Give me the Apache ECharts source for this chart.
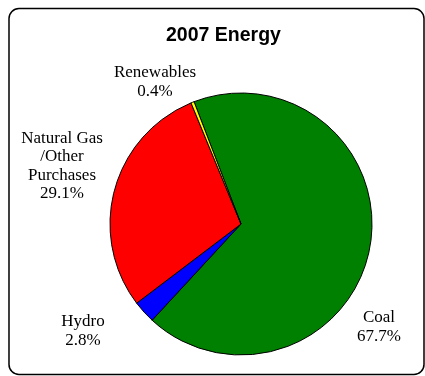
<!DOCTYPE html>
<html>
<head>
<meta charset="utf-8">
<script src="https://cdn.jsdelivr.net/npm/echarts@6/dist/echarts.min.js"></script>
<style>
  html, body { margin: 0; padding: 0; background: #fff; }
  #chart { width: 425px; height: 376px; }
</style>
</head>
<body>
<div id="chart"></div>
<script>
// slice data, clockwise from the top-left edge of the coal slice
const categories = ['Coal', 'Hydro', 'Natural Gas\n/Other\nPurchases', 'Renewables']
const shares = [67.7, 2.8, 29.1, 0.4]
const sliceColors = ['#008000', '#0000ff', '#ff0000', '#ffff00']

// where the label blocks sit (centre of each block)
const labelPos = [[379, 327], [83, 331], [62, 166], [155, 82]]

const chart = echarts.init(document.getElementById('chart'))

chart.setOption({
  animation: false,
  title: {
    text: '2007 Energy',
    left: 161,
    top: 21,
    textStyle: {
      fontFamily: 'Liberation Sans',
      fontWeight: 'bold',
      fontSize: 19.5,
      color: '#000'
    }
  },
  graphic: [
    {
      type: 'rect',
      shape: { x: 9, y: 8.5, width: 415, height: 366, r: 10 },
      style: { fill: 'none', stroke: '#000', lineWidth: 1.5 },
      z: -1
    }
  ],
  series: [
    {
      type: 'pie',
      center: [241, 224],
      radius: 131,
      startAngle: 111,
      clockwise: true,
      avoidLabelOverlap: false,
      data: categories.map((name, i) => ({
        name: name,
        value: shares[i],
        itemStyle: { color: sliceColors[i] }
      })),
      itemStyle: { borderColor: '#000', borderWidth: 1 },
      label: {
        show: true,
        formatter: p => p.name + '\n' + p.value.toFixed(1) + '%',
        fontFamily: 'Liberation Serif',
        fontSize: 17,
        lineHeight: 18.6,
        color: '#000',
        align: 'center',
        overflow: 'none'
      },
      labelLine: { show: false },
      labelLayout: params => ({
        x: labelPos[params.dataIndex][0],
        y: labelPos[params.dataIndex][1],
        align: 'center',
        verticalAlign: 'middle',
        hideOverlap: false
      }),
      emphasis: { disabled: true }
    }
  ]
})
</script>
</body>
</html>
